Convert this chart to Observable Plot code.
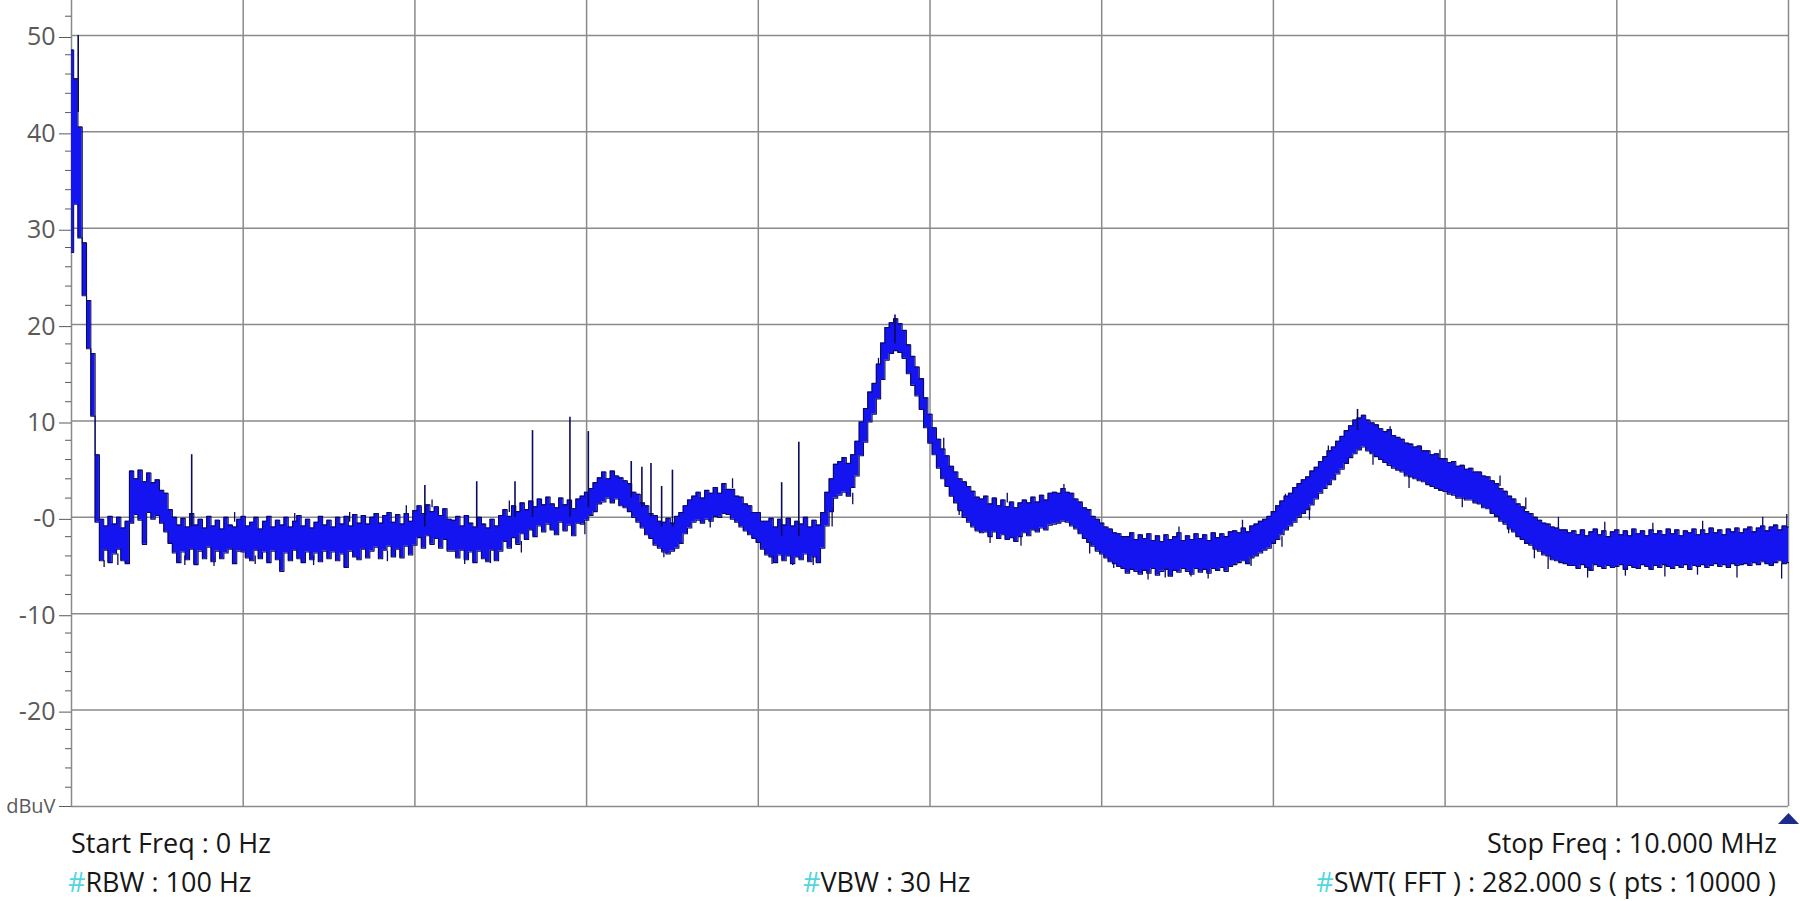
<!DOCTYPE html>
<html><head><meta charset="utf-8">
<script src="https://cdn.jsdelivr.net/npm/d3@7"></script>
<script src="https://cdn.jsdelivr.net/npm/@observablehq/plot@0.6"></script>
<style>
html,body{margin:0;padding:0;background:#fff;}
#wrap{position:relative;width:1800px;height:901px;overflow:hidden;font-family:"Open Sans",sans-serif;background:#fff;}
.lbl{position:absolute;font-size:27px;line-height:27px;color:#161616;white-space:nowrap;}
.hash{color:#52d6e0;}
</style></head><body>
<div id="wrap"><div id="chart"></div>
<div class="lbl" style="left:71px;top:829px">Start Freq : 0 Hz</div>
<div class="lbl" style="right:23px;top:829px">Stop Freq : 10.000 MHz</div>
<div class="lbl" style="left:68px;top:868px"><span class="hash">#</span>RBW : 100 Hz</div>
<div class="lbl" style="left:803px;top:868px"><span class="hash">#</span>VBW : 30 Hz</div>
<div class="lbl" style="right:24px;top:868px"><span class="hash">#</span>SWT( FFT ) : 282.000 s ( pts : 10000 )</div>
</div>
<script>
// Sweep: 0 .. 10 MHz, sampled every 0.025 MHz (401 points); upper / lower edge of the trace (dBuV)
const stepMHz = 0.025;
const hi = [
48.5,45.5,40.5,28.5,22.5,17.0,6.5,-0.2,-0.9,0.1,
-0.7,0.0,-1.1,-0.4,4.8,4.0,4.9,3.7,4.6,3.6,
3.9,2.8,2.5,0.8,0.0,-0.8,-0.1,-1.0,0.4,-0.8,
-0.2,-1.1,0.1,-0.9,-0.3,-1.2,0.0,-0.8,-1.0,-0.2,
0.1,-0.9,-0.5,0.0,-1.2,-0.4,0.1,-1.0,-0.3,-0.8,
0.0,-1.0,-0.4,0.2,-0.9,-0.2,-1.1,-0.5,0.1,-0.8,
-0.3,-1.0,0.0,-0.7,0.1,-0.9,0.3,-0.6,0.2,-0.7,
0.0,0.4,-0.6,0.2,0.5,-0.5,0.3,-0.7,0.4,-0.4,
0.7,1.2,0.4,1.3,0.6,1.1,0.2,0.9,-0.2,-0.3,
0.1,-0.9,0.2,-0.6,-1.0,0.0,-0.7,-1.1,-0.2,-0.9,
0.2,0.8,0.1,1.2,0.6,1.5,0.8,1.7,1.1,1.9,
1.3,2.1,1.4,1.0,2.0,1.3,1.8,0.9,1.9,2.2,
2.6,3.0,3.6,4.1,4.7,4.0,4.8,4.3,4.1,3.8,
3.5,2.6,2.4,1.5,1.2,0.4,0.2,-0.4,-0.5,-0.1,
-0.6,0.1,0.5,1.2,1.8,2.2,2.6,2.0,2.8,2.5,
3.1,2.5,3.5,2.9,2.9,2.2,2.1,1.4,1.2,0.5,
0.5,-0.4,-0.4,-0.1,-1.0,-0.2,-0.8,-0.1,-0.9,-0.4,
-0.7,0.0,-1.0,-0.3,-0.8,0.5,2.6,4.0,5.5,5.8,
6.2,5.6,6.5,7.9,9.9,11.3,13.0,13.9,15.9,18.1,
19.7,20.2,20.6,20.1,19.4,17.9,16.7,15.6,14.4,12.4,
10.7,9.3,8.1,7.1,6.4,5.3,4.7,4.0,3.7,3.2,
2.7,2.1,1.9,2.2,1.4,2.0,1.2,1.8,1.1,1.6,
1.0,1.5,1.8,1.5,2.1,1.6,2.3,1.8,2.5,2.6,
2.5,3.0,2.6,2.5,1.9,1.6,1.0,0.8,0.1,-0.2,
-0.6,-1.0,-1.2,-1.6,-1.7,-2.0,-2.0,-1.6,-2.3,-1.8,
-2.2,-1.7,-2.4,-1.9,-2.5,-1.8,-2.3,-2.0,-1.6,-2.4,
-1.9,-2.3,-1.7,-2.2,-1.8,-2.4,-1.6,-2.1,-1.7,-2.0,
-1.5,-1.4,-1.6,-1.1,-1.5,-0.9,-0.7,-0.4,-0.2,0.1,
0.6,1.2,1.7,2.2,2.5,3.1,3.5,3.9,4.2,4.8,
5.2,5.8,6.3,6.9,7.3,7.9,8.4,9.0,9.5,10.1,
10.3,10.6,10.1,9.8,9.6,9.2,8.9,9.1,8.5,8.3,
8.1,7.7,7.6,7.3,7.4,6.9,6.9,6.5,6.6,6.1,
6.1,5.7,5.8,5.3,5.4,5.0,5.1,4.7,4.7,4.3,
4.2,3.8,3.5,3.0,2.7,2.2,1.9,1.4,1.1,0.6,
0.4,0.0,-0.3,-0.6,-0.7,-1.0,-1.1,-1.3,-1.3,-1.6,
-1.4,-1.8,-1.3,-1.9,-1.5,-1.2,-1.8,-1.4,-2.0,-1.5,
-1.3,-1.8,-1.4,-1.9,-1.2,-1.7,-1.4,-1.9,-1.3,-1.7,
-1.4,-1.8,-1.2,-1.7,-1.3,-1.9,-1.4,-1.6,-1.2,-1.8,
-1.3,-1.7,-1.1,-1.6,-1.3,-1.8,-1.2,-1.5,-1.1,-1.6,
-1.2,-1.0,-1.5,-1.1,-0.9,-1.4,-1.0,-0.8,-1.3,-0.9,
-1.0
];
const lo = [
27.5,32.5,29.0,23.0,17.5,10.5,-0.5,-4.5,-3.4,-4.7,
-3.8,-3.3,-4.5,-4.8,-0.6,0.3,-0.3,-2.8,0.5,-0.2,
0.2,-0.6,-1.5,-2.7,-3.7,-4.7,-3.6,-4.4,-3.3,-4.9,
-3.5,-4.3,-3.1,-4.6,-3.5,-4.3,-3.7,-3.3,-4.8,-3.5,
-3.6,-4.2,-4.5,-3.4,-4.3,-3.6,-4.7,-3.5,-4.4,-5.6,
-3.7,-4.5,-3.4,-4.3,-4.7,-3.6,-4.4,-3.7,-4.6,-3.5,
-4.3,-3.6,-4.5,-3.8,-5.2,-3.5,-4.1,-4.4,-3.3,-4.2,
-3.5,-3.1,-4.3,-3.4,-3.0,-4.1,-3.3,-4.2,-3.0,-3.9,
-2.9,-2.1,-3.2,-1.9,-2.8,-2.2,-3.2,-2.3,-3.5,-3.5,
-4.2,-3.4,-4.4,-3.6,-4.7,-3.5,-4.3,-4.6,-3.4,-4.5,
-3.5,-2.5,-3.2,-2.1,-2.8,-1.7,-2.3,-1.3,-2.0,-0.9,
-1.5,-0.7,-1.3,-1.8,-0.5,-1.4,-0.8,-1.9,-0.6,-0.7,
-0.3,0.2,0.6,1.4,1.6,2.0,1.5,1.9,1.2,1.0,
0.6,0.0,-0.5,-1.1,-1.8,-2.2,-2.9,-3.2,-3.6,-3.8,
-3.5,-3.2,-2.7,-1.7,-1.1,-0.5,-0.3,-0.6,-0.2,-0.4,
0.1,0.0,0.4,0.3,-0.2,-0.5,-1.0,-1.4,-1.8,-2.2,
-2.6,-3.3,-3.9,-4.1,-4.7,-3.9,-4.5,-4.0,-4.8,-4.1,
-4.4,-3.8,-4.6,-4.1,-4.7,-3.2,-0.9,0.6,2.0,2.3,
2.6,2.2,3.1,4.3,6.4,7.8,9.9,10.7,12.3,14.3,
16.3,17.0,17.3,17.1,16.5,14.9,13.7,12.6,11.2,9.3,
7.7,6.5,5.1,4.0,3.2,2.2,1.5,0.7,0.0,-0.5,
-1.0,-1.4,-1.6,-1.5,-2.0,-1.5,-2.2,-1.8,-2.3,-2.1,
-2.5,-2.0,-1.6,-1.9,-1.3,-1.5,-1.1,-1.3,-0.8,-0.7,
-0.6,-0.4,-0.5,-0.9,-1.2,-1.7,-2.2,-2.6,-3.0,-3.5,
-3.8,-4.2,-4.6,-4.8,-5.1,-5.3,-5.8,-5.4,-5.6,-5.9,
-5.5,-5.8,-5.3,-6.0,-5.6,-5.4,-6.1,-5.5,-5.7,-5.3,
-5.6,-5.9,-5.3,-5.7,-5.4,-5.8,-5.3,-5.5,-5.2,-5.6,
-5.1,-4.9,-4.7,-4.5,-4.8,-4.2,-4.0,-3.7,-3.4,-3.2,
-2.7,-2.3,-1.8,-1.3,-0.9,-0.5,0.0,0.4,0.8,1.3,
1.9,2.5,3.0,3.4,3.9,4.5,5.0,5.6,6.2,6.6,
7.0,7.3,6.9,6.6,6.3,6.0,5.7,5.4,5.1,4.9,
4.7,4.3,4.2,4.0,3.8,3.7,3.4,3.2,3.0,2.8,
2.7,2.4,2.3,2.0,2.0,1.8,1.8,1.5,1.4,1.0,
0.9,0.4,0.1,-0.4,-0.7,-1.2,-1.5,-2.0,-2.3,-2.7,
-2.9,-3.3,-3.5,-3.9,-4.0,-4.4,-4.5,-4.7,-4.8,-5.0,
-5.0,-5.3,-4.9,-5.2,-5.5,-4.9,-5.1,-5.3,-5.0,-5.2,
-5.1,-4.9,-5.4,-5.0,-5.2,-5.3,-4.9,-5.1,-5.4,-5.0,
-5.2,-4.9,-5.1,-5.3,-5.0,-5.2,-4.9,-5.4,-5.0,-5.1,
-4.9,-5.2,-5.0,-4.8,-5.1,-4.9,-5.2,-4.8,-5.0,-4.9,
-4.8,-5.0,-4.7,-4.9,-4.6,-4.8,-5.0,-4.7,-4.5,-4.8,
-4.7
];
// Isolated narrow spurs (MHz, top dBuV, base dBuV)
const spikeFreq = [0.039, 0.70, 2.058, 2.36, 2.583, 2.685, 2.903, 3.01, 3.26, 3.322, 3.375, 3.437, 3.50, 4.136, 4.236, 4.796, 7.49];
const spikeTop  = [50.0, 6.5, 3.3, 3.7, 3.7, 9.0, 10.4, 8.9, 5.8, 5.2, 5.6, 3.2, 4.9, 3.6, 7.8, 21.0, 11.2];
const spikeBase = [42, -1, -1, -1, 0, 0, 0, 1, 2, 1, 0, -1, -1, -2, -2, 18, 9];
// Short noise whiskers sticking out of the trace (MHz, from dBuV, to dBuV)
const whiskFreq = [0.19,0.27,0.66,0.83,1.07,1.41,1.84,2.29,2.44,2.62,2.99,3.45,3.72,4.08,4.2,4.32,4.43,4.55,5.17,5.35,5.53,5.93,6.07,6.27,6.37,6.52,6.62,6.87,7.05,7.21,7.58,7.79,8.1,8.37,8.52,8.6,8.83,9.05,9.28,9.47,9.7,9.96,
  0.95,1.3,1.62,1.95,2.1,2.55,3.85,4.7,5.08,5.45,5.78,6.45,6.82,7.07,7.32,7.68,7.97,8.32,8.47,8.66,8.93,9.21,9.5,9.85,9.99];
const whiskFrom = [-4.5,-3.8,-4,-4,-4,-4,-3.5,-4,-3.5,-2.5,-0.5,-3,0,-3.5,-4,-4,1,2.5,1.5,-1.5,-2,-2.7,-4,-5.5,-5.5,-5.5,-5.5,-4,-2,1,6.5,4.5,2.3,-0.5,-2.8,-4,-5,-5,-5,-5,-5,-4.8,
  -0.5,-0.5,-0.5,0,1,0.5,3,15,7,1.5,2.5,-2,-1.3,1.3,6,8.3,6,3.2,0.8,-1.2,-1.5,-1.5,-1.3,-1,-1];
const whiskTo = [-5.2,-5.0,-5.0,-5.1,-4.9,-5.0,-4.6,-4.9,-4.8,-3.7,-1.8,-4.2,-1.1,-4.9,-5.0,-5.0,-1.0,1.3,0.2,-2.7,-3.0,-3.8,-5.3,-6.5,-6.3,-6.2,-6.4,-5.1,-3.1,-0.3,5.4,3.0,1.0,-1.7,-4.3,-5.4,-6.3,-6.1,-6.2,-6.0,-6.3,-6.4,
  0.5,0.4,0.5,1.2,1.8,1.7,4.0,16.5,8.2,2.5,3.4,-1.0,-0.3,2.4,7.4,9.4,7.0,4.3,2.0,0.0,-0.5,-0.6,-0.4,0.0,0.3];

const gridFreqs = [1, 2, 3, 4, 5, 6, 7, 8, 9, 10];
const gridLevels = [-30, -20, -10, 0, 10, 20, 30, 40, 50];
const majorTicks = [-20, -10, 0, 10, 20, 30, 40, 50];
const minorTicks = [-28,-26,-24,-22,-18,-16,-14,-12,-8,-6,-4,-2,2,4,6,8,12,14,16,18,22,24,26,28,32,34,36,38,42,44,46,48,52];
const unitLabel = "dBuV";
const stopMarker = [{f: 10, v: -31.25}];

const trace = hi.map((h, i) => ({f: i * stepMHz, hi: h, lo: lo[i]}));
const spikes = spikeFreq.map((f, i) => ({f, top: spikeTop[i], base: spikeBase[i]}));
const whiskers = whiskFreq.map((f, i) => ({f, a: whiskFrom[i], b: whiskTo[i]}));

const flatTri = {
  draw(ctx) { ctx.moveTo(-10.5, 5.5); ctx.lineTo(10.5, 5.5); ctx.lineTo(0, -5.5); ctx.closePath(); }
};

const GRID = "#8a8a8a";
const NAVY = "#0b0b5c";
const plot = Plot.plot({
  width: 1800, height: 830,
  marginLeft: 71, marginRight: 12, marginTop: 0, marginBottom: 24,
  x: {domain: [0, 10], axis: null},
  y: {domain: [-30, 53.63], axis: null},
  style: {background: "#fff", color: "#5a5a5a", fontFamily: "Open Sans"},
  marks: [
    Plot.ruleX(gridFreqs, {stroke: GRID, strokeWidth: 1.5}),
    Plot.ruleY(gridLevels, {stroke: GRID, strokeWidth: 1.5}),
    Plot.ruleX([0], {stroke: GRID, strokeWidth: 1.5}),
    Plot.axisY(minorTicks, {tickSize: 6, tickFormat: () => "", label: null}),
    Plot.axisY(majorTicks, {tickSize: 12, tickPadding: 4, fontSize: 25, dy: 2, label: null,
      tickFormat: d => d === 0 ? "-0" : String(d)}),
    Plot.axisY([-30], {tickSize: 12, tickPadding: 4, fontSize: 20, label: null, tickFormat: () => unitLabel}),
    Plot.ruleX(whiskers, {x: "f", y1: "a", y2: "b", stroke: NAVY, strokeWidth: 1.3}),
    Plot.areaY(trace, {x: "f", y1: "lo", y2: "hi", curve: "step", fill: "#1414f0"}),
    Plot.line(trace, {x: "f", y: "hi", curve: "step", stroke: NAVY, strokeWidth: 1.1}),
    Plot.line(trace, {x: "f", y: "lo", curve: "step", stroke: NAVY, strokeWidth: 1.1}),
    Plot.ruleX(spikes, {x: "f", y1: "base", y2: "top", stroke: NAVY, strokeWidth: 1.6}),
    Plot.dot(stopMarker, {x: "f", y: "v", symbol: flatTri, fill: "#1c2a8c", stroke: null})
  ]
});
document.getElementById("chart").appendChild(plot);
</script>
</body></html>
